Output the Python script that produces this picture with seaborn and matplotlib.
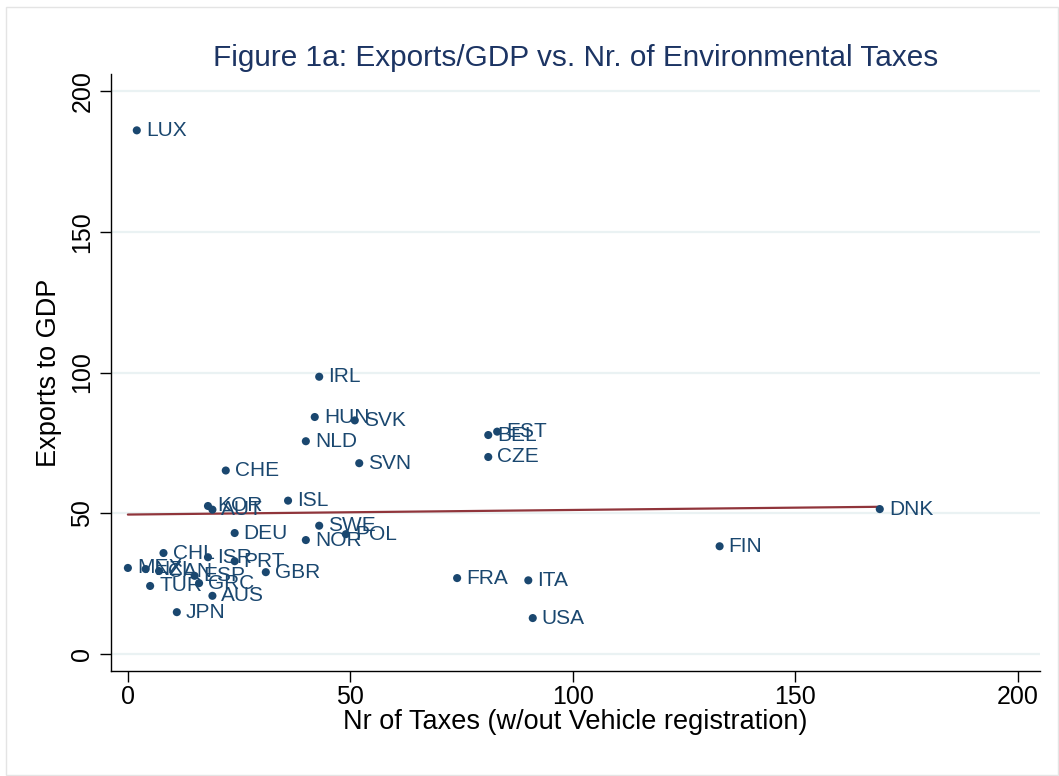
import matplotlib
matplotlib.use("Agg")
import matplotlib.pyplot as plt
from matplotlib.patches import Rectangle
import numpy as np
import pandas as pd
import seaborn as sns

# Country codes with number of environmental taxes and exports as % of GDP
countries = ["LUX", "IRL", "HUN", "SVK", "NLD", "SVN", "CHE", "BEL", "EST", "CZE",
             "ISL", "KOR", "AUT", "DNK", "DEU", "SWE", "POL", "NOR", "FIN", "CHL",
             "ISR", "PRT", "GBR", "MEX", "NZL", "CAN", "ESP", "GRC", "TUR", "AUS",
             "JPN", "FRA", "ITA", "USA"]
n_taxes = [2, 43, 42, 51, 40, 52, 22, 81, 83, 81,
           36, 18, 19, 169, 24, 43, 49, 40, 133, 8,
           18, 24, 31, 0, 4, 7, 15, 16, 5, 19,
           11, 74, 90, 91]
exports_gdp = [186.0, 98.5, 84.2, 83.0, 75.6, 67.8, 65.2, 77.8, 79.0, 70.0,
               54.5, 52.6, 51.3, 51.5, 43.0, 45.6, 42.6, 40.5, 38.3, 35.9,
               34.4, 33.0, 29.1, 30.6, 30.2, 29.5, 27.8, 25.2, 24.2, 20.7,
               14.9, 27.0, 26.2, 12.8]

x_ticks = [0, 50, 100, 150, 200]
y_ticks = [0, 50, 100, 150, 200]

df = pd.DataFrame({"country": countries, "taxes": n_taxes, "exports": exports_gdp})

sns.set_theme(style="white")
plt.rcParams["font.family"] = ["Liberation Sans", "DejaVu Sans"]

navy = "#1a476f"
maroon = "#90353b"

fig = plt.figure(figsize=(10.59, 7.76), dpi=100)
ax = fig.add_axes([0.1048, 0.1353, 0.8772, 0.7693])

ax.yaxis.grid(True, color="#eaf2f3", lw=1.6)
ax.xaxis.grid(False)
ax.set_axisbelow(True)

sns.scatterplot(data=df, x="taxes", y="exports", color=navy, s=34,
                edgecolor="none", linewidth=0, ax=ax, zorder=3)
sns.regplot(data=df, x="taxes", y="exports", scatter=False, ci=None,
            truncate=True, color=maroon, line_kws={"lw": 1.6, "zorder": 2}, ax=ax)

for code, xv, yv in zip(countries, n_taxes, exports_gdp):
    ax.annotate(code, (xv, yv), xytext=(6.5, 0), textcoords="offset points",
                ha="left", va="center", fontsize=15, color=navy, zorder=4)

ax.set_xlim(-3.8, 205)
ax.set_ylim(-6, 206)
ax.set_xticks(x_ticks)
ax.set_yticks(y_ticks)
ax.set_xticklabels([str(v) for v in x_ticks], fontsize=18)
ax.set_yticklabels([str(v) for v in y_ticks], fontsize=18, rotation=90, va="center")

for side in ["top", "right"]:
    ax.spines[side].set_visible(False)
for side in ["left", "bottom"]:
    ax.spines[side].set_color("black")
    ax.spines[side].set_linewidth(1.0)

ax.tick_params(axis="both", which="major", direction="out", length=8, width=1,
               color="black", labelcolor="black", bottom=True, left=True)
ax.tick_params(axis="x", pad=2)
ax.tick_params(axis="y", pad=4)

ax.set_xlabel("Nr of Taxes (w/out Vehicle registration)", fontsize=19.5, color="black", labelpad=0)
ax.set_ylabel("Exports to GDP", fontsize=19.5, color="black", labelpad=6)
ax.set_title("Figure 1a: Exports/GDP vs. Nr. of Environmental Taxes",
             fontsize=21.4, color="#1c3463", pad=6)

fig.patches.append(Rectangle((6 / 1059, 1 / 776), 1052 / 1059, 768 / 776,
                             transform=fig.transFigure, fill=False,
                             edgecolor="#e4e4e4", lw=1.0))

fig.savefig("out.png", dpi=100, facecolor="white")
